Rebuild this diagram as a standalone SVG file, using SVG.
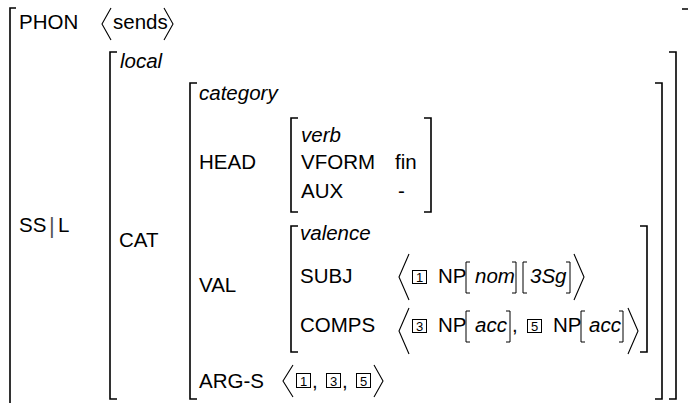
<svg xmlns="http://www.w3.org/2000/svg" width="688" height="403" viewBox="0 0 688 403">
<style>
.t{font-family:"Liberation Sans",Arial,sans-serif;font-size:20.5px;fill:#000}
.i{font-style:italic}
.br{fill:none;stroke:#000;stroke-width:1.6}
.sb{fill:none;stroke:#000;stroke-width:1}
.ang{fill:none;stroke:#000;stroke-width:1.1}
.box{fill:none;stroke:#000;stroke-width:1}
.n{font-family:"Liberation Sans",Arial,sans-serif;font-size:13px;text-anchor:middle;fill:#000}
</style>
<rect width="688" height="403" fill="#fff"/>
<g id="brackets">
  <path class="br" d="M16,8 H10 V404"/>
  <path class="br" d="M682,9 H689 V404"/>
  <path class="br" d="M117,52 H110 V399 H117"/>
  <path class="br" d="M669,52 H676 V399 H669"/>
  <path class="br" d="M197,83 H190 V399 H197"/>
  <path class="br" d="M655,83 H662 V399 H655"/>
  <path class="br" d="M298,118 H291 V212 H298"/>
  <path class="br" d="M424,118 H431 V212 H424"/>
  <path class="br" d="M298,226 H291 V352 H298"/>
  <path class="br" d="M640,226 H647 V352 H640"/>
</g>
<g id="phon">
  <text class="t" x="19" y="29">PHON</text>
  <path class="ang" d="M111,8 L102,24 L111,40"/>
  <text class="t" x="113" y="29">sends</text>
  <path class="ang" d="M164,8 L173,24 L164,40"/>
</g>
<g id="ssl">
  <text class="t" x="19" y="232">SS</text>
  <text class="t" x="49" y="233" style="font-size:22px;fill:#555">|</text>
  <text class="t" x="58" y="232">L</text>
</g>
<g id="local">
  <text class="t i" x="120" y="68">local</text>
  <text class="t" x="119" y="247">CAT</text>
</g>
<g id="category">
  <text class="t i" x="199" y="100">category</text>
  <text class="t" x="199" y="169">HEAD</text>
  <text class="t" x="199" y="292">VAL</text>
  <text class="t" x="199" y="388">ARG-S</text>
</g>
<g id="head">
  <text class="t i" x="301" y="142">verb</text>
  <text class="t" x="301" y="169">VFORM</text>
  <text class="t" x="395" y="169">fin</text>
  <text class="t" x="301" y="198">AUX</text>
  <text class="t" x="398" y="198">-</text>
</g>
<g id="valence">
  <text class="t i" x="300" y="240">valence</text>
  <text class="t" x="300" y="283">SUBJ</text>
  <path class="ang" d="M409,254 L399,277 L409,300"/>
  <rect class="box" x="412.5" y="270.5" width="14" height="13"/>
  <text class="n" x="419.5" y="282">1</text>
  <text class="t" x="438" y="283">NP</text>
  <path class="sb" d="M470,262 H466 V293 H470"/>
  <text class="t i" x="475" y="283">nom</text>
  <path class="sb" d="M512,262 H516 V293 H512"/>
  <path class="sb" d="M527,262 H523 V293 H527"/>
  <text class="t i" x="530" y="283">3Sg</text>
  <path class="sb" d="M566,262 H570 V293 H566"/>
  <path class="ang" d="M574,254 L584,277 L574,300"/>

  <text class="t" x="300" y="332">COMPS</text>
  <path class="ang" d="M409,308 L399,331 L409,354"/>
  <rect class="box" x="412.5" y="319.5" width="14" height="13"/>
  <text class="n" x="419.5" y="331">3</text>
  <text class="t" x="438" y="332">NP</text>
  <path class="sb" d="M470,311 H466 V342 H470"/>
  <text class="t i" x="475" y="332">acc</text>
  <path class="sb" d="M506,311 H510 V342 H506"/>
  <text class="t" x="512" y="332">,</text>
  <rect class="box" x="527.5" y="319.5" width="14" height="13"/>
  <text class="n" x="534.5" y="331">5</text>
  <text class="t" x="553" y="332">NP</text>
  <path class="sb" d="M585,311 H581 V342 H585"/>
  <text class="t i" x="589" y="332">acc</text>
  <path class="sb" d="M619,311 H623 V342 H619"/>
  <path class="ang" d="M628,308 L638,331 L628,354"/>
</g>
<g id="args">
  <path class="ang" d="M293,365 L283,381 L293,397"/>
  <rect class="box" x="296.5" y="373.5" width="14" height="14"/>
  <text class="n" x="303.5" y="386">1</text>
  <text class="t" x="312" y="388">,</text>
  <rect class="box" x="326.5" y="373.5" width="14" height="14"/>
  <text class="n" x="333.5" y="386">3</text>
  <text class="t" x="342" y="388">,</text>
  <rect class="box" x="356.5" y="373.5" width="14" height="14"/>
  <text class="n" x="363.5" y="386">5</text>
  <path class="ang" d="M374,365 L383,381 L374,397"/>
</g>
</svg>
